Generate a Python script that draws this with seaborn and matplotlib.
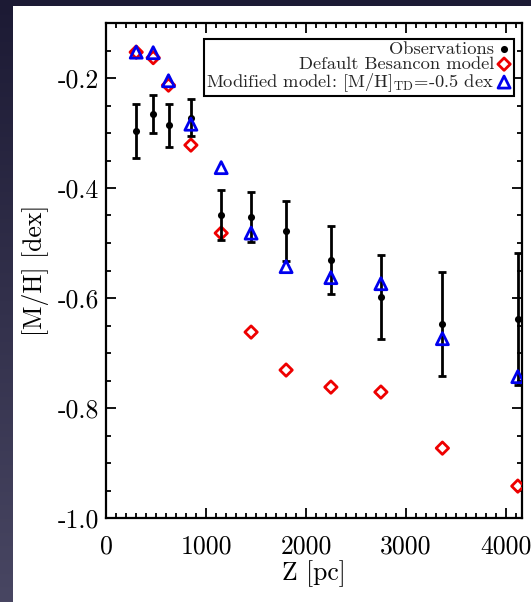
import numpy as np
import pandas as pd
import matplotlib
matplotlib.use("Agg")
import matplotlib.pyplot as plt
import seaborn as sns
from matplotlib.patches import Rectangle
from matplotlib.ticker import FixedLocator, FixedFormatter, MultipleLocator

# ---- data ----
z_pc = [302, 472, 625, 849, 1152, 1451, 1801, 2249, 2749, 3364, 4118]
obs_mh = [-0.296, -0.265, -0.286, -0.272, -0.449, -0.453, -0.478, -0.531, -0.598, -0.647, -0.638]
obs_err = [0.049, 0.035, 0.039, 0.033, 0.045, 0.046, 0.055, 0.062, 0.077, 0.094, 0.12]
besancon_mh = [-0.153, -0.163, -0.213, -0.322, -0.482, -0.662, -0.731, -0.762, -0.771, -0.873, -0.942]
modified_mh = [-0.153, -0.154, -0.205, -0.284, -0.363, -0.482, -0.543, -0.563, -0.574, -0.674, -0.743]

xticks = [0, 1000, 2000, 3000, 4000]
xticklabels = ["0", "1000", "2000", "3000", "4000"]
yticks = [-1.0, -0.8, -0.6, -0.4, -0.2]
yticklabels = ["-1.0", "-0.8", "-0.6", "-0.4", "-0.2"]

labels = ["Observations", "Default Besancon model",
          r"Modified model: [M/H]$_{\mathrm{TD}}$=-0.5 dex"]

df = pd.DataFrame({"z": z_pc, "obs": obs_mh, "err": obs_err,
                   "bes": besancon_mh, "mod": modified_mh})

sns.set_theme(style="ticks")
plt.rcParams["font.family"] = ["cmr10", "DejaVu Serif"]
plt.rcParams["mathtext.fontset"] = "cm"
plt.rcParams["axes.unicode_minus"] = False

W, H = 531, 602
fig = plt.figure(figsize=(W / 100, H / 100), dpi=100)

# dark gradient background
bg = fig.add_axes([0, 0, 1, 1], zorder=-20)
grad = np.linspace(0, 1, 256).reshape(-1, 1)
top = np.array([28, 26, 52]) / 255
bot = np.array([72, 70, 98]) / 255
img = top[None, None, :] * (1 - grad[:, :, None]) + bot[None, None, :] * grad[:, :, None]
bg.imshow(img, aspect="auto", extent=[0, 1, 0, 1], origin="upper")
bg.set_axis_off()

# white panel
fig.patches.append(Rectangle((13 / W, 0), 1 - 13 / W, (H - 6) / H,
                             transform=fig.transFigure, facecolor="white",
                             edgecolor="none", zorder=-10))

ax = fig.add_axes([106 / W, 1 - 518 / H, (522 - 106) / W, (518 - 23) / H])
ax.set_facecolor("white")

sns.scatterplot(data=df, x="z", y="bes", marker="D", s=40, facecolors="none",
                edgecolors="#ee0000", linewidths=2, ax=ax, zorder=3, label=labels[1])
ax.errorbar(df["z"], df["obs"], yerr=df["err"], fmt="none", ecolor="black",
            elinewidth=2, capsize=3, capthick=2, zorder=4)
sns.scatterplot(data=df, x="z", y="obs", marker="o", s=26, color="black",
                edgecolor="black", linewidth=0, ax=ax, zorder=5, label=labels[0])
sns.scatterplot(data=df, x="z", y="mod", marker="^", s=75, facecolors="none",
                edgecolors="#0000ee", linewidths=2, ax=ax, zorder=6, label=labels[2])

ax.set_xlim(0, 4160)
ax.set_ylim(-1.0, -0.1)
ax.xaxis.set_major_locator(FixedLocator(xticks))
ax.xaxis.set_major_formatter(FixedFormatter(xticklabels))
ax.yaxis.set_major_locator(FixedLocator(yticks))
ax.yaxis.set_major_formatter(FixedFormatter(yticklabels))
ax.xaxis.set_minor_locator(MultipleLocator(100))
ax.yaxis.set_minor_locator(MultipleLocator(0.05))
ax.tick_params(which="both", direction="in", top=True, right=True, width=1.3,
               color="black")
ax.tick_params(which="major", length=7, labelsize=18.5, labelcolor="black")
ax.tick_params(which="minor", length=3.5)
ax.tick_params(axis="x", which="major", pad=12)
ax.tick_params(axis="y", which="major", pad=5)
for sp in ax.spines.values():
    sp.set_linewidth(1.6)
    sp.set_color("black")

ax.set_xlabel("Z [pc]", fontsize=18.5, color="black", labelpad=1)
ax.set_ylabel("[M/H] [dex]", fontsize=18.5, color="black", labelpad=6)

handles, labs = ax.get_legend_handles_labels()
order = [labs.index(l) for l in labels]
leg = ax.legend([handles[i] for i in order], [labs[i] for i in order],
                loc="upper right", bbox_to_anchor=(0.98, 0.968), markerfirst=False,
                fontsize=13.3, frameon=True, fancybox=False, edgecolor="black",
                framealpha=1, borderpad=0.12, labelspacing=-0.05,
                handletextpad=0.15, handlelength=0.8, borderaxespad=0)
leg.get_frame().set_linewidth(1.5)
for t in leg.get_texts():
    t.set_ha("right")
leg._legend_box.align = "right"

fig.savefig("out.png", dpi=100, facecolor=fig.get_facecolor())
